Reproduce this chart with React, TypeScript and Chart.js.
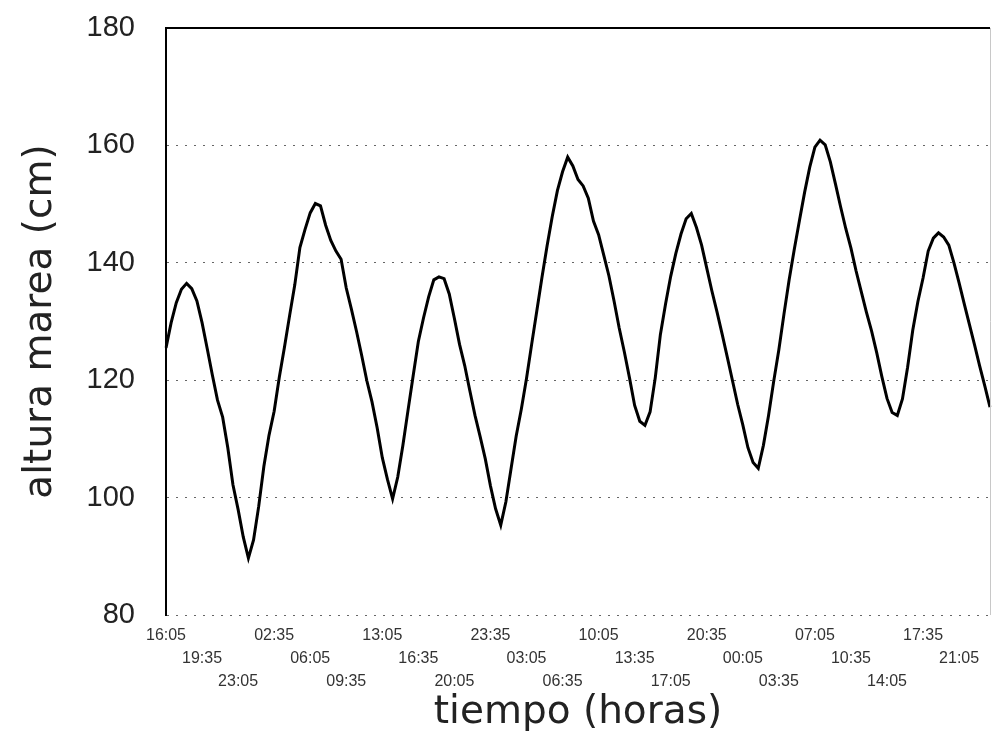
import React, { useEffect, useRef } from "react";
import { Chart, registerables } from "chart.js";

Chart.register(...registerables);

const START_TIME = "16:05";
const STEP_MINUTES = 30;
const TICK_EVERY = 7;
const TICK_LABELS = [
  "16:05", "19:35", "23:05", "02:35", "06:05", "09:35", "13:05", "16:35",
  "20:05", "23:35", "03:05", "06:35", "10:05", "13:35", "17:05", "20:35",
  "00:05", "03:35", "07:05", "10:35", "14:05", "17:35", "21:05",
];
const TIDE_CM = [
  125.5, 129.8, 133.2, 135.5, 136.5, 135.6, 133.5, 129.8, 125.4, 120.9,
  116.6, 113.7, 108.5, 102.2, 98.0, 93.3, 89.7, 92.8, 98.5, 105.3,
  110.6, 114.7, 120.5, 125.6, 131.0, 136.2, 142.6, 145.7, 148.5, 150.1,
  149.7, 146.4, 143.8, 142.0, 140.6, 135.7, 132.1, 128.3, 124.2, 119.9,
  116.3, 111.9, 106.8, 103.1, 99.8, 103.5, 108.9, 114.9, 120.8, 126.6,
  130.6, 134.2, 137.1, 137.6, 137.3, 134.7, 130.5, 126.1, 122.5, 118.2,
  114.0, 110.4, 106.6, 102.0, 98.1, 95.3, 99.3, 104.9, 110.5, 115.1,
  120.3, 126.1, 131.8, 137.5, 142.9, 147.9, 152.3, 155.5, 158.0, 156.5,
  154.2, 153.1, 151.0, 147.1, 144.8, 141.3, 137.8, 133.5, 128.9, 124.8,
  120.4, 115.7, 113.0, 112.3, 114.6, 120.4, 127.8, 133.0, 137.7, 141.6,
  144.9, 147.5, 148.4, 146.0, 143.0, 139.1, 135.2, 131.6, 127.8, 123.9,
  119.9, 115.9, 112.4, 108.5, 106.0, 105.0, 108.9, 114.0, 119.8, 125.2,
  131.3, 137.1, 142.3, 147.2, 152.0, 156.3, 159.7, 160.9, 160.1, 157.2,
  153.4, 149.5, 145.8, 142.5, 138.6, 135.1, 131.6, 128.4, 124.7, 120.6,
  116.9, 114.5, 114.0, 116.8, 122.2, 128.5, 133.4, 137.4, 142.0, 144.2,
  145.1, 144.4, 143.0, 140.0, 136.6, 133.0, 129.5, 126.0, 122.4, 119.0,
  115.4,
];
const Y_MIN = 80;
const Y_MAX = 180;
const Y_STEP = 20;
const Y_TITLE = "altura marea (cm)";
const X_TITLE = "tiempo (horas)";

function buildTimeLabels(): string[] {
  const [h, m] = START_TIME.split(":").map(Number);
  const start = h * 60 + m;
  return TIDE_CM.map((_, i) => {
    const t = (start + i * STEP_MINUTES) % (24 * 60);
    const hh = String(Math.floor(t / 60)).padStart(2, "0");
    const mm = String(t % 60).padStart(2, "0");
    return `${hh}:${mm}`;
  });
}

const rightFrame = {
  id: "rightFrame",
  afterDraw(chart: any) {
    const { ctx, chartArea } = chart;
    ctx.save();
    ctx.strokeStyle = "#c8c8c8";
    ctx.lineWidth = 1;
    ctx.beginPath();
    ctx.moveTo(chartArea.right + 0.5, chartArea.top);
    ctx.lineTo(chartArea.right + 0.5, chartArea.bottom);
    ctx.stroke();
    ctx.restore();
  },
};

export default function App() {
  const ref = useRef<HTMLCanvasElement | null>(null);

  useEffect(() => {
    if (!ref.current) return;
    const labels = buildTimeLabels();
    const chart = new Chart(ref.current, {
      type: "line",
      data: {
        labels,
        datasets: [
          {
            data: TIDE_CM,
            borderColor: "#000",
            borderWidth: 3,
            pointRadius: 0,
            tension: 0,
            fill: false,
          },
        ],
      },
      options: {
        animation: false,
        responsive: false,
        devicePixelRatio: 1,
        layout: { padding: { left: 0, right: 2, top: 28, bottom: 0 } },
        plugins: { legend: { display: false }, tooltip: { enabled: false } },
        scales: {
          x: {
            type: "category",
            offset: false,
            grid: { display: false, drawTicks: false },
            border: { display: false },
            ticks: {
              autoSkip: false,
              maxRotation: 0,
              minRotation: 0,
              padding: 9,
              color: "#333",
              font: { family: "'Liberation Sans', Arial, sans-serif", size: 16, lineHeight: 1.45 },
              callback: (_v: any, index: number) => {
                if (index % TICK_EVERY !== 0) return null;
                const k = index / TICK_EVERY;
                if (k >= TICK_LABELS.length) return null;
                const row = k % 3;
                const lines: string[] = [];
                for (let r = 0; r < row; r++) lines.push("");
                lines.push(TICK_LABELS[k]);
                return lines;
              },
            },
            title: {
              display: true,
              text: X_TITLE,
              color: "#222",
              font: { family: "'DejaVu Sans', sans-serif", size: 39, lineHeight: 1.2 },
              padding: { top: 0, bottom: 6 },
            },
            afterFit: (scale: any) => {
              scale.height = 127;
            },
          },
          y: {
            min: Y_MIN,
            max: Y_MAX,
            ticks: {
              stepSize: Y_STEP,
              padding: 3,
              color: "#222",
              font: { family: "'Liberation Sans', Arial, sans-serif", size: 29 },
            },
            grid: {
              drawTicks: true,
              tickLength: 28,
              tickColor: "rgba(0,0,0,0)",
              color: (c: any) => (c.tick && c.tick.value === Y_MAX ? "#000" : "#666"),
              lineWidth: (c: any) => (c.tick && c.tick.value === Y_MAX ? 2 : 1),
            },
            border: {
              display: true,
              color: "#000",
              width: 2,
              dash: (c: any) => (c.tick && c.tick.value !== Y_MAX ? [2, 7] : []),
            },
            title: {
              display: true,
              text: Y_TITLE,
              color: "#222",
              font: { family: "'DejaVu Sans', sans-serif", size: 39, lineHeight: 1.2 },
              padding: { top: 17, bottom: 0 },
            },
            afterFit: (scale: any) => {
              scale.width = 166;
            },
          },
        },
      },
      plugins: [rightFrame],
    } as any);
    return () => chart.destroy();
  }, []);

  return (
    <div style={{ position: "fixed", left: 0, top: 0, width: 992, height: 742, background: "#fff" }}>
      <canvas ref={ref} width={992} height={742} style={{ width: 992, height: 742, display: "block" }} />
    </div>
  );
}
